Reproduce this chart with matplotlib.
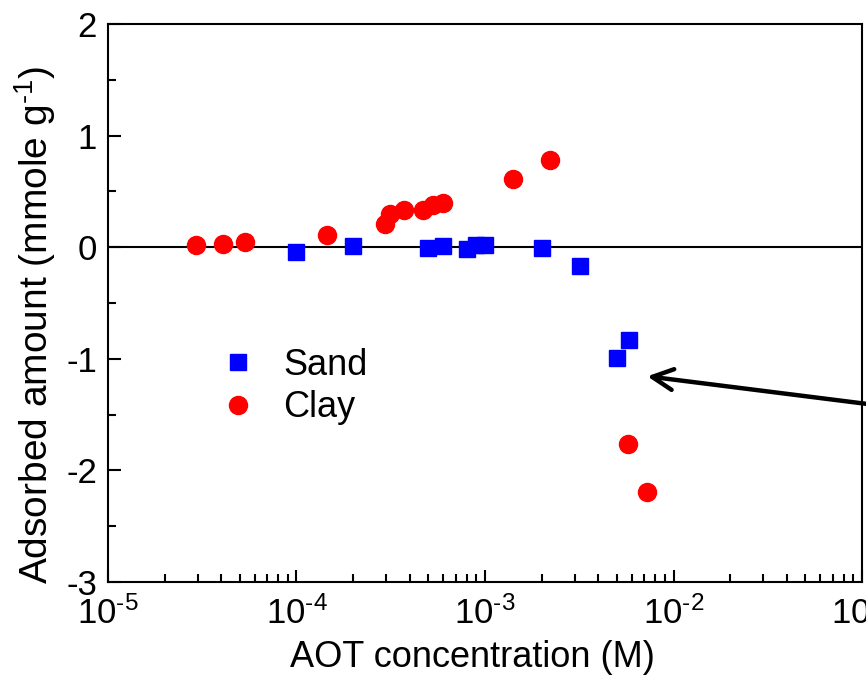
import numpy as np
import matplotlib
matplotlib.use("Agg")
from matplotlib import pyplot as plt
from matplotlib.ticker import LogLocator, MultipleLocator, NullFormatter, FuncFormatter

plt.rcParams["font.family"] = ["Liberation Sans", "DejaVu Sans"]
plt.rcParams["mathtext.fontset"] = "custom"
plt.rcParams["mathtext.rm"] = "Liberation Sans"
plt.rcParams["mathtext.it"] = "Liberation Sans:italic"
plt.rcParams["axes.unicode_minus"] = False

# data
sand_conc = [1.0e-4, 2.0e-4, 5.0e-4, 6.0e-4, 8.0e-4, 9.0e-4, 1.0e-3, 2.0e-3, 3.2e-3, 5.0e-3, 5.8e-3]
sand_ads = [-0.04, 0.01, -0.01, 0.01, -0.02, 0.02, 0.02, -0.01, -0.17, -0.99, -0.83]

clay_conc = [2.93e-5, 4.07e-5, 5.33e-5, 1.45e-4, 2.96e-4, 3.13e-4, 3.72e-4, 4.71e-4,
             5.28e-4, 6.01e-4, 1.40e-3, 2.21e-3, 5.75e-3, 7.21e-3]
clay_ads = [0.02, 0.03, 0.05, 0.11, 0.21, 0.30, 0.33, 0.33,
            0.38, 0.40, 0.61, 0.78, -1.76, -2.19]

arrow_tip = (7.26e-3, -1.157)


def pow_label(v, pos):
    e = int(round(np.log10(v)))
    return r"$\mathdefault{10^{\text{%d}}}$" % e


fig = plt.figure(figsize=(8.66, 6.92), dpi=100)
ax = fig.add_axes([0.1247, 0.159, 0.8707, 0.8063])

ax.axhline(0, color="black", lw=1.5, zorder=1)
ax.plot(sand_conc, sand_ads, ls="none", marker="s", ms=12, color="#0000ff",
        mec="#0000ff", label="Sand", zorder=3)
ax.plot(clay_conc, clay_ads, ls="none", marker="o", ms=13, color="#ff0000",
        mec="#ff0000", label="Clay", zorder=3)

ax.annotate("", xy=arrow_tip, xycoords="data",
            xytext=(1.06, 0.31), textcoords="axes fraction",
            arrowprops=dict(arrowstyle="->,head_length=1.5,head_width=0.75",
                            lw=3.2, color="black", shrinkA=0, shrinkB=0),
            annotation_clip=False)

ax.set_xscale("log")
ax.set_xlim(1e-5, 1e-1)
ax.set_ylim(-3, 2)
ax.xaxis.set_major_locator(LogLocator(base=10, numticks=10))
ax.xaxis.set_major_formatter(FuncFormatter(pow_label))
ax.xaxis.set_minor_locator(LogLocator(base=10, subs=np.arange(2, 10), numticks=20))
ax.xaxis.set_minor_formatter(NullFormatter())
ax.yaxis.set_major_locator(MultipleLocator(1))
ax.yaxis.set_minor_locator(MultipleLocator(0.5))

for s in ax.spines.values():
    s.set_linewidth(1.5)
ax.tick_params(which="both", direction="in", top=False, right=False, width=1.5)
ax.tick_params(which="major", length=9, labelsize=25)
ax.tick_params(which="minor", length=5.5)
ax.tick_params(axis="y", which="major", pad=8)
ax.tick_params(axis="x", which="major", pad=10)

ax.set_xlabel("AOT concentration (M)", fontsize=26)
ax.xaxis.set_label_coords(0.483, -0.104)
ax.set_ylabel("Adsorbed amount (mmole g$^{\\text{-1}}$)", fontsize=28)
ax.yaxis.set_label_coords(-0.066, 0.46)

ax.legend(loc="upper left", bbox_to_anchor=(0.125, 0.445), frameon=False,
          fontsize=26, handletextpad=0.65, labelspacing=0.2, borderaxespad=0,
          handlelength=1.2)

fig.savefig("out.png", dpi=100)
